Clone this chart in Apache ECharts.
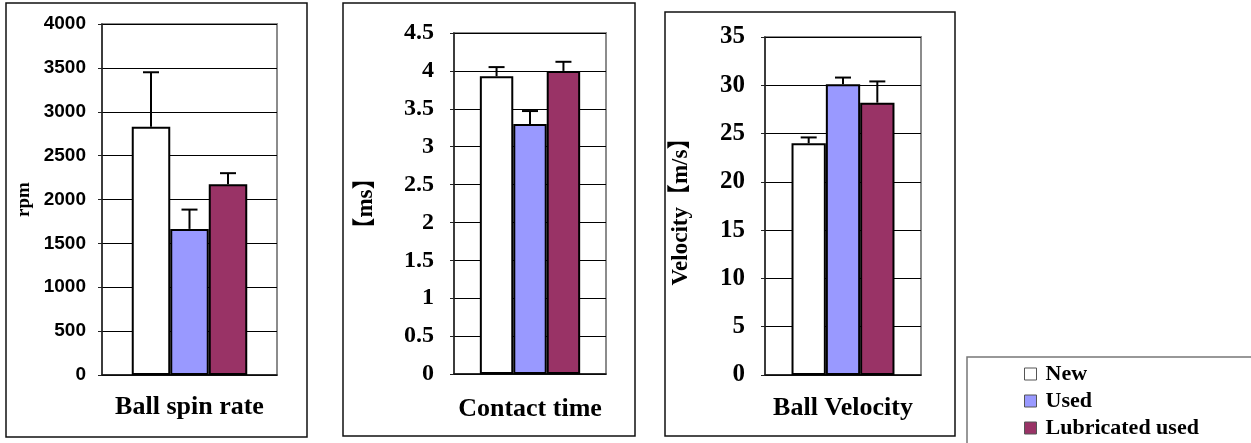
<!DOCTYPE html>
<html>
<head>
    <meta charset="utf-8">
    <title>Ball tests</title>
    <script src="https://cdn.jsdelivr.net/npm/echarts@6/dist/echarts.min.js"></script>
</head>
<body style="margin:0;background:#fff;">
    <div id="main" style="width: 1251px;height:443px;"></div>
    <script type="text/javascript">
        // data
        var panels = ['Ball spin rate', 'Contact time', 'Ball Velocity'];
        var axisNames = ['rpm', '【ms】', 'Velocity【m/s】'];
        var groups = ['New', 'Used', 'Lubricated used'];
        var newVals = [2830, 3.93, 24.0];
        var usedVals = [1665, 3.30, 30.1];
        var lubVals = [2175, 4.00, 28.2];
        var newErr = [620, 0.12, 0.6];
        var usedErr = [220, 0.17, 0.7];
        var lubErr = [125, 0.12, 2.2];
        var axisMax = [4000, 4.5, 35];
        var axisStep = [500, 0.5, 5];

        var vals = [newVals, usedVals, lubVals];
        var errs = [newErr, usedErr, lubErr];
        var colors = ['#ffffff', '#9999ff', '#993366'];
        var gapRatio = 0.34;

        var serif = '"Liberation Serif", "Times New Roman", serif';
        var serifCJK = '"Liberation Serif", "Noto Sans CJK JP", serif';
        var sans = '"Liberation Sans", Arial, sans-serif';

        var myChart = echarts.init(document.getElementById('main'));

        var grids = [
            {left: 102, top: 24, width: 175, height: 351},
            {left: 454, top: 33, width: 152, height: 341},
            {left: 765, top: 37, width: 156, height: 338}
        ];
        var labelFonts = [
            {fontFamily: sans, fontSize: 19, margin: 16},
            {fontFamily: serif, fontSize: 24, margin: 20},
            {fontFamily: serif, fontSize: 25, margin: 20}
        ];
        var nameGaps = [68, 76, 72];
        var nameSizes = [19, 23, 23];
        var titleMargins = [19, 22, 20];

        var xAxis = [], yAxis = [], series = [];
        grids.forEach(function (g, i) {
            g.show = true;
            g.borderColor = '#8c8c8c';
            g.borderWidth = 2;
            g.containLabel = false;
            xAxis.push({
                type: 'category',
                gridIndex: i,
                data: [panels[i]],
                axisTick: {show: false},
                axisLine: {lineStyle: {color: '#111', width: 1.5}},
                axisLabel: {
                    margin: titleMargins[i],
                    color: '#000',
                    fontFamily: serif,
                    fontWeight: 'bold',
                    fontSize: 26
                }
            });
            yAxis.push({
                type: 'value',
                gridIndex: i,
                min: 0,
                max: axisMax[i],
                interval: axisStep[i],
                name: axisNames[i],
                nameLocation: 'middle',
                nameGap: nameGaps[i],
                nameTextStyle: {
                    color: '#000',
                    fontFamily: serifCJK,
                    fontWeight: 'bold',
                    fontSize: nameSizes[i]
                },
                axisLine: {show: true, lineStyle: {color: '#222', width: 1.5}},
                axisTick: {show: true, length: 4, lineStyle: {color: '#222'}},
                splitLine: {lineStyle: {color: '#000', width: 1}},
                axisLabel: {
                    color: '#000',
                    fontWeight: 'bold',
                    fontFamily: labelFonts[i].fontFamily,
                    fontSize: labelFonts[i].fontSize,
                    margin: labelFonts[i].margin,
                    formatter: function (v) { return String(v); }
                }
            });
            groups.forEach(function (name, s) {
                series.push({
                    type: 'bar',
                    name: name,
                    xAxisIndex: i,
                    yAxisIndex: i,
                    barGap: 0,
                    barCategoryGap: (gapRatio * 100) + '%',
                    itemStyle: {color: colors[s], borderColor: '#000', borderWidth: 2},
                    data: [vals[s][i]]
                });
            });
            // error bars (upper only)
            series.push({
                type: 'custom',
                name: 'err' + i,
                xAxisIndex: i,
                yAxisIndex: i,
                z: 5,
                encode: {x: 0, y: 1},
                data: groups.map(function (n, s) {
                    return [0, vals[s][i], errs[s][i], s];
                }),
                renderItem: function (params, api) {
                    var v = api.value(1), e = api.value(2), s = api.value(3);
                    var band = api.size([1, 0])[0];
                    var bw = band * (1 - gapRatio) / 3;
                    var base = api.coord([0, v]);
                    var top = api.coord([0, v + e]);
                    var x = base[0] + (s - 1) * bw;
                    var st = {stroke: '#000', lineWidth: 2};
                    return {
                        type: 'group',
                        children: [
                            {type: 'line', shape: {x1: x, y1: base[1], x2: x, y2: top[1]}, style: st},
                            {type: 'line', shape: {x1: x - 8, y1: top[1], x2: x + 8, y2: top[1]}, style: st}
                        ]
                    };
                }
            });
        });

        option = {
            backgroundColor: '#fff',
            animation: false,
            grid: grids,
            xAxis: xAxis,
            yAxis: yAxis,
            legend: {
                data: groups,
                orient: 'vertical',
                left: 1024,
                top: 363,
                height: 120,
                padding: 0,
                itemWidth: 12,
                itemHeight: 12,
                itemGap: 5,
                icon: 'rect',
                itemStyle: {borderColor: '#555', borderWidth: 1},
                textStyle: {
                    color: '#000',
                    fontFamily: serif,
                    fontWeight: 'bold',
                    fontSize: 22,
                    lineHeight: 20,
                    padding: [0, 0, 0, 4]
                }
            },
            graphic: [
                {type: 'rect', shape: {x: 6, y: 3, width: 301, height: 434}, style: {fill: 'none', stroke: '#111', lineWidth: 1.5}, z: -1},
                {type: 'rect', shape: {x: 343, y: 3, width: 292, height: 433}, style: {fill: 'none', stroke: '#111', lineWidth: 1.5}, z: -1},
                {type: 'rect', shape: {x: 665, y: 12, width: 290, height: 424}, style: {fill: 'none', stroke: '#111', lineWidth: 1.5}, z: -1},
                {type: 'rect', shape: {x: 967, y: 357, width: 300, height: 100}, style: {fill: 'none', stroke: '#777', lineWidth: 1.5}, z: -1}
            ],
            series: series
        };

        myChart.setOption(option);
    </script>
</body>
</html>
